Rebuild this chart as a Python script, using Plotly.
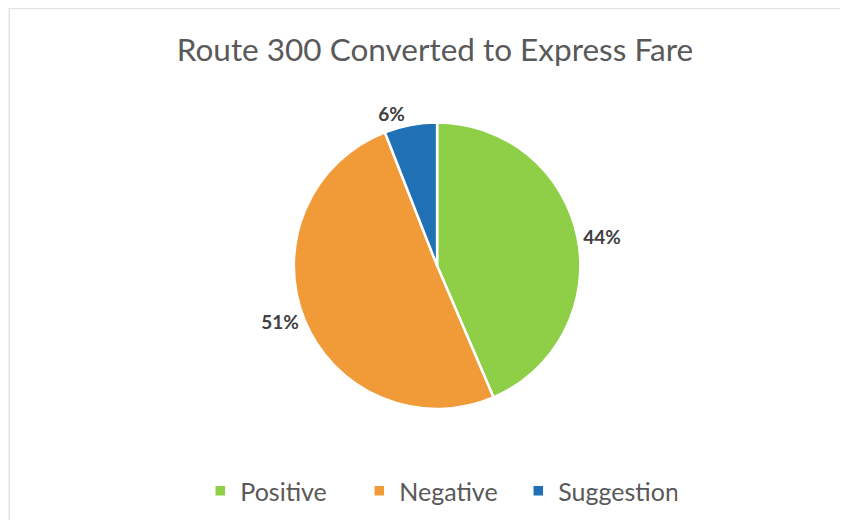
import plotly.graph_objects as go

categories = ["Positive", "Negative", "Suggestion"]
values = [44, 51, 6]
pct_labels = ["44%", "51%", "6%"]
colors = ["#8fcf48", "#f09b38", "#1f70b4"]

W, H = 848, 520
FONT = "Lato, Carlito, sans-serif"

fig = go.Figure(go.Pie(
    labels=categories,
    values=values,
    text=pct_labels,
    textinfo="text",
    textposition="outside",
    sort=False,
    direction="clockwise",
    rotation=0,
    marker=dict(colors=colors, line=dict(color="white", width=2.5)),
    textfont=dict(family=FONT, size=19, color="#404040", weight="bold"),
    domain=dict(x=[0.337, 0.675], y=[0.229, 0.780]),
    hoverinfo="label+text",
))

fig.update_layout(
    width=W, height=H,
    margin=dict(l=0, r=0, t=0, b=0),
    paper_bgcolor="white",
    plot_bgcolor="white",
    font=dict(family=FONT, color="#595959"),
    title=dict(
        text="Route 300 Converted to Express Fare",
        x=0.5035, xanchor="center",
        y=0.919, yanchor="middle",
        font=dict(family=FONT, size=31.5, color="#595959"),
    ),
    legend=dict(
        orientation="h",
        x=0.508, xanchor="center",
        y=0.071, yanchor="middle",
        font=dict(family=FONT, size=25, color="#595959"),
        itemwidth=30,
        entrywidth=114,
        entrywidthmode="pixels",
        traceorder="normal",
    ),
    shapes=[dict(
        type="rect", xref="paper", yref="paper",
        x0=0.0015, x1=1.2, y0=-0.2, y1=0.999,
        line=dict(color="#e2e2e2", width=1.5),
        fillcolor="rgba(0,0,0,0)",
        layer="below",
    )],
)

fig.write_html("out.html")
